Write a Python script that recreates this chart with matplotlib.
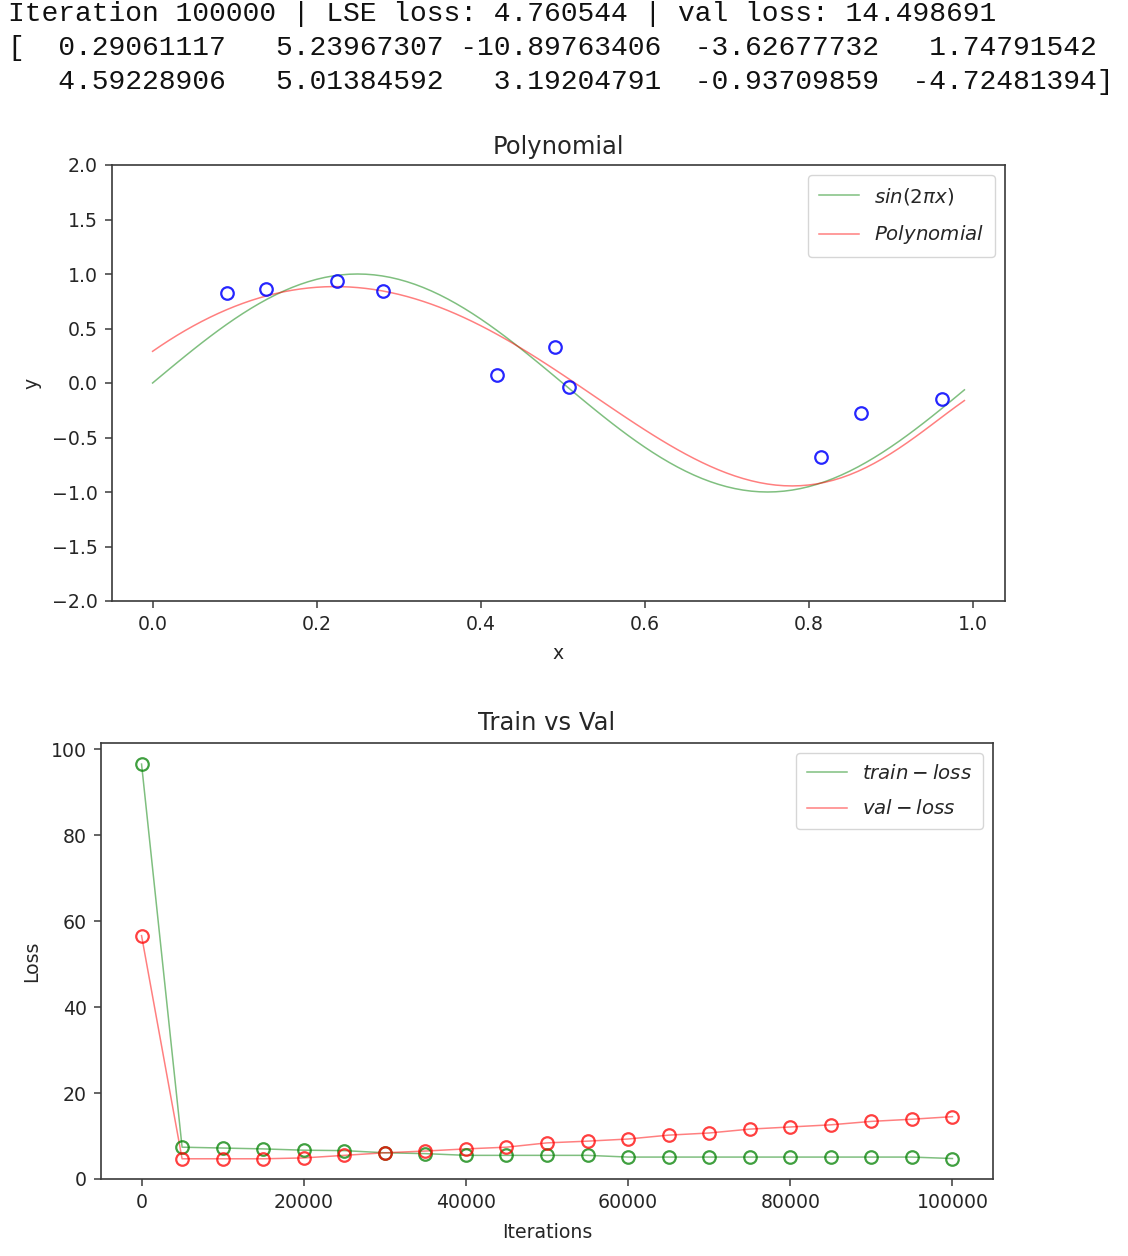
import numpy as np
import matplotlib
matplotlib.use("Agg")
import matplotlib.pyplot as plt

# ---------------- data ----------------
iteration = 100000
lse_loss = 4.760544
val_loss_final = 14.498691
coefs = [0.29061117, 5.23967307, -10.89763406, -3.62677732, 1.74791542,
         4.59228906, 5.01384592, 3.19204791, -0.93709859, -4.72481394]

pts_x = [0.091, 0.138, 0.225, 0.281, 0.420, 0.491, 0.508, 0.815, 0.864, 0.963]
pts_y = [0.826, 0.862, 0.936, 0.844, 0.073, 0.330, -0.037, -0.679, -0.275, -0.147]

iters = [0, 5000, 10000, 15000, 20000, 25000, 30000, 35000, 40000, 45000, 50000,
         55000, 60000, 65000, 70000, 75000, 80000, 85000, 90000, 95000, 100000]
train_loss = [96.5, 7.4, 7.2, 7.0, 6.7, 6.6, 6.1, 5.9, 5.5, 5.5, 5.5,
              5.5, 5.1, 5.1, 5.1, 5.1, 5.1, 5.1, 5.1, 5.1, 4.76]
val_loss = [56.6, 4.7, 4.7, 4.7, 4.9, 5.5, 6.1, 6.5, 7.0, 7.4, 8.4,
            8.8, 9.3, 10.2, 10.7, 11.6, 12.1, 12.6, 13.4, 13.9, 14.5]

# ---------------- figure ----------------
W, H = 1128, 1256
fig = plt.figure(figsize=(W / 100, H / 100), dpi=100)
fig.patch.set_facecolor("white")

FS = 13.6
TXT = "#262626"
SP = "#3a3a3a"
plt.rcParams["mathtext.fontset"] = "dejavusans"


def ax_px(l, t, r, b):
    return fig.add_axes([l / W, 1 - b / H, (r - l) / W, (b - t) / H])


def style(ax):
    for s in ax.spines.values():
        s.set_color(SP)
        s.set_linewidth(1.2)
    ax.tick_params(direction="out", length=5, width=1.1, color=SP,
                   labelsize=FS, labelcolor=TXT, pad=5)


def legend(ax):
    leg = ax.legend(loc="upper right", fontsize=14.2, framealpha=0.8,
                    edgecolor="#cccccc", fancybox=True, borderpad=0.55,
                    handlelength=2.0, handletextpad=0.8, labelspacing=0.85,
                    borderaxespad=0.5)
    leg.get_frame().set_linewidth(1.0)
    for t in leg.get_texts():
        t.set_color(TXT)
    return leg


# top text (notebook print output)
mono = "Liberation Mono"
line1 = f"Iteration {iteration} | LSE loss: {lse_loss:.6f} | val loss: {val_loss_final:.6f}"
fmt = [f"{v:12.8f}" for v in coefs]
line2 = "[" + " ".join(fmt[:5])
line3 = " " + " ".join(fmt[5:]) + "]"
for i, ln in enumerate([line1, line2, line3]):
    fig.text(8 / W, 1 - (21 + 34 * i) / H, ln, family=mono, fontsize=20.2,
             color="#111111", va="baseline", ha="left")

# ---- plot 1: polynomial ----
ax1 = ax_px(112, 165, 1005, 601)
style(ax1)
xs = np.arange(0, 1, 0.01)
ax1.plot(xs, np.sin(2 * np.pi * xs), color="green", alpha=0.5, lw=1.1,
         label=r"$sin(2\pi x)$")
ax1.plot(xs, np.polynomial.polynomial.polyval(xs, coefs), color="red",
         alpha=0.5, lw=1.1, label=r"$Polynomial$")
ax1.plot(pts_x, pts_y, "o", mfc="none", mec="blue", ms=9, mew=1.6, alpha=0.85)
ax1.set_ylim(-2, 2)
ax1.set_xlim(-0.0495, 1.0395)
ax1.set_xticks([0.0, 0.2, 0.4, 0.6, 0.8, 1.0])
ax1.set_yticks([-2.0, -1.5, -1.0, -0.5, 0.0, 0.5, 1.0, 1.5, 2.0])
ax1.set_title("Polynomial", fontsize=17.5, color=TXT, pad=8)
ax1.set_xlabel("x", fontsize=FS, color=TXT, labelpad=7)
ax1.set_ylabel("y", fontsize=FS, color=TXT, labelpad=8)
legend(ax1)

# ---- plot 2: train vs val ----
ax2 = ax_px(101, 743, 993, 1179)
style(ax2)
ax2.plot(iters, train_loss, color="green", alpha=0.5, lw=1.1, label=r"$train-loss$")
ax2.plot(iters, val_loss, color="red", alpha=0.5, lw=1.1, label=r"$val-loss$")
ax2.plot(iters, train_loss, "o", mfc="none", mec="green", ms=9, mew=1.6, alpha=0.75)
ax2.plot(iters, val_loss, "o", mfc="none", mec="red", ms=9, mew=1.6, alpha=0.75)
ax2.set_xlim(-5000, 105000)
ax2.set_ylim(0, 101.4)
ax2.set_xticks([0, 20000, 40000, 60000, 80000, 100000])
ax2.set_yticks([0, 20, 40, 60, 80, 100])
ax2.set_title("Train vs Val", fontsize=17.5, color=TXT, pad=9)
ax2.set_xlabel("Iterations", fontsize=FS, color=TXT, labelpad=8)
ax2.set_ylabel("Loss", fontsize=FS, color=TXT, labelpad=7)
legend(ax2)

fig.savefig("out.png", dpi=100, facecolor="white")
